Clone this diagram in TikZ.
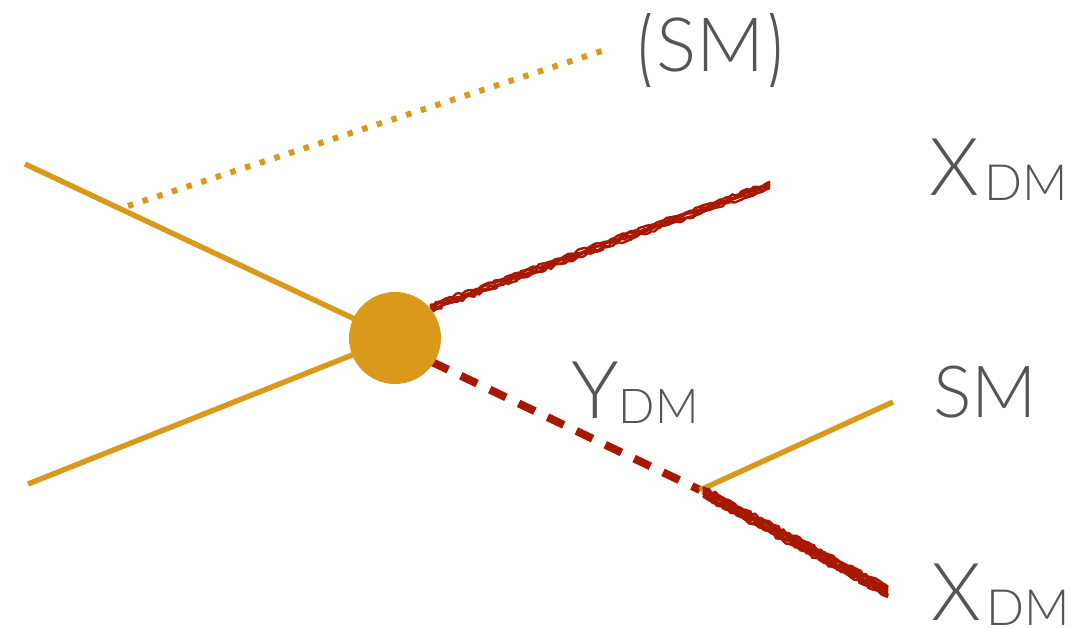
\documentclass[tikz,border=0pt]{standalone}
\usepackage{fontspec}
\usepackage{graphicx}
\setmainfont{Lato Light}
\usetikzlibrary{decorations.pathmorphing}
\definecolor{gold}{HTML}{D99A1C}
\definecolor{dmred}{HTML}{A81800}
\definecolor{labelgrey}{HTML}{555555}
\pgfmathsetseed{42}
\tikzset{
  fermion/.style={draw=gold,line width=5.4pt},
  softline/.style={draw=gold,line width=6pt,dash pattern=on 5.5pt off 9.9pt},
  dmdash/.style={draw=dmred,line width=8pt,dash pattern=on 18pt off 14pt},
  chalk/.style={draw=dmred,line width=#1pt,decorate,decoration={random steps,segment length=3.5pt,amplitude=1.5pt}},
  blobnode/.style={circle,fill=gold,minimum size=92pt,inner sep=0pt},
  biglabel/.style={inner sep=0pt,text=labelgrey,anchor=base west,font=\fontsize{80}{80}\selectfont},
  smlabel/.style={inner sep=0pt,text=labelgrey,anchor=base west,font=\fontsize{72}{72}\selectfont},
}
\newcommand{\dmsub}[2]{\kern#1pt\raisebox{-5pt}{\fontsize{#2}{#2}\selectfont DM}}
\newcommand{\tallparen}[1]{\raisebox{-13pt}{\scalebox{1}[1.42]{#1}}}
\begin{document}
\begin{tikzpicture}[x=1pt,y=-1pt]
\useasboundingbox (0,0) rectangle (1079,628);
\coordinate (inA) at (25,164);
\coordinate (inB) at (28,484);
\coordinate (softstart) at (128,206);
\coordinate (softend) at (605,50);
\coordinate (xoneend) at (770,185);
\coordinate (xonestart) at (430,308);
\coordinate (ydmstart) at (432,362);
\coordinate (vertex) at (700,490);
\coordinate (smend) at (893,402);
\coordinate (xtwostart) at (703,492);
\coordinate (xtwoend) at (888,592);
% connectors
\draw[fermion] (inA) -- (395,338);
\draw[fermion] (inB) -- (395,338);
\draw[softline] (softstart) -- (softend);
\draw[dmdash] (ydmstart) -- (vertex);
\draw[fermion] (vertex) -- (smend);
\foreach \d in {-3.2,-1.6,0,1.6,3.2}{
  \draw[chalk=2.4] ([yshift=\d pt]xonestart) -- ([yshift=\d pt]xoneend);
}
\foreach \d in {-5,-3.75,-2.5,-1.25,0,1.25,2.5,3.75,5}{
  \draw[chalk=2.6] ([yshift=\d pt]xtwostart) -- ([yshift=\d pt]xtwoend);
}
\node[blobnode] (blob) at (395,338) {};
% labels
\begin{scope}
\clip (600,14) rectangle (820,87);
\node[smlabel,font=\fontsize{75}{75}\selectfont] (smtop) at (637,72) {\tallparen{(}SM\tallparen{)}};
\end{scope}
\node[biglabel] (xone) at (929,196) {X\dmsub{5}{50}};
\node[biglabel] (ydm) at (571,418) {Y\dmsub{0}{48}};
\node[smlabel] (sm) at (933,417) {SM};
\node[biglabel] (xtwo) at (931,620) {X\dmsub{5}{50}};
\end{tikzpicture}
\end{document}
